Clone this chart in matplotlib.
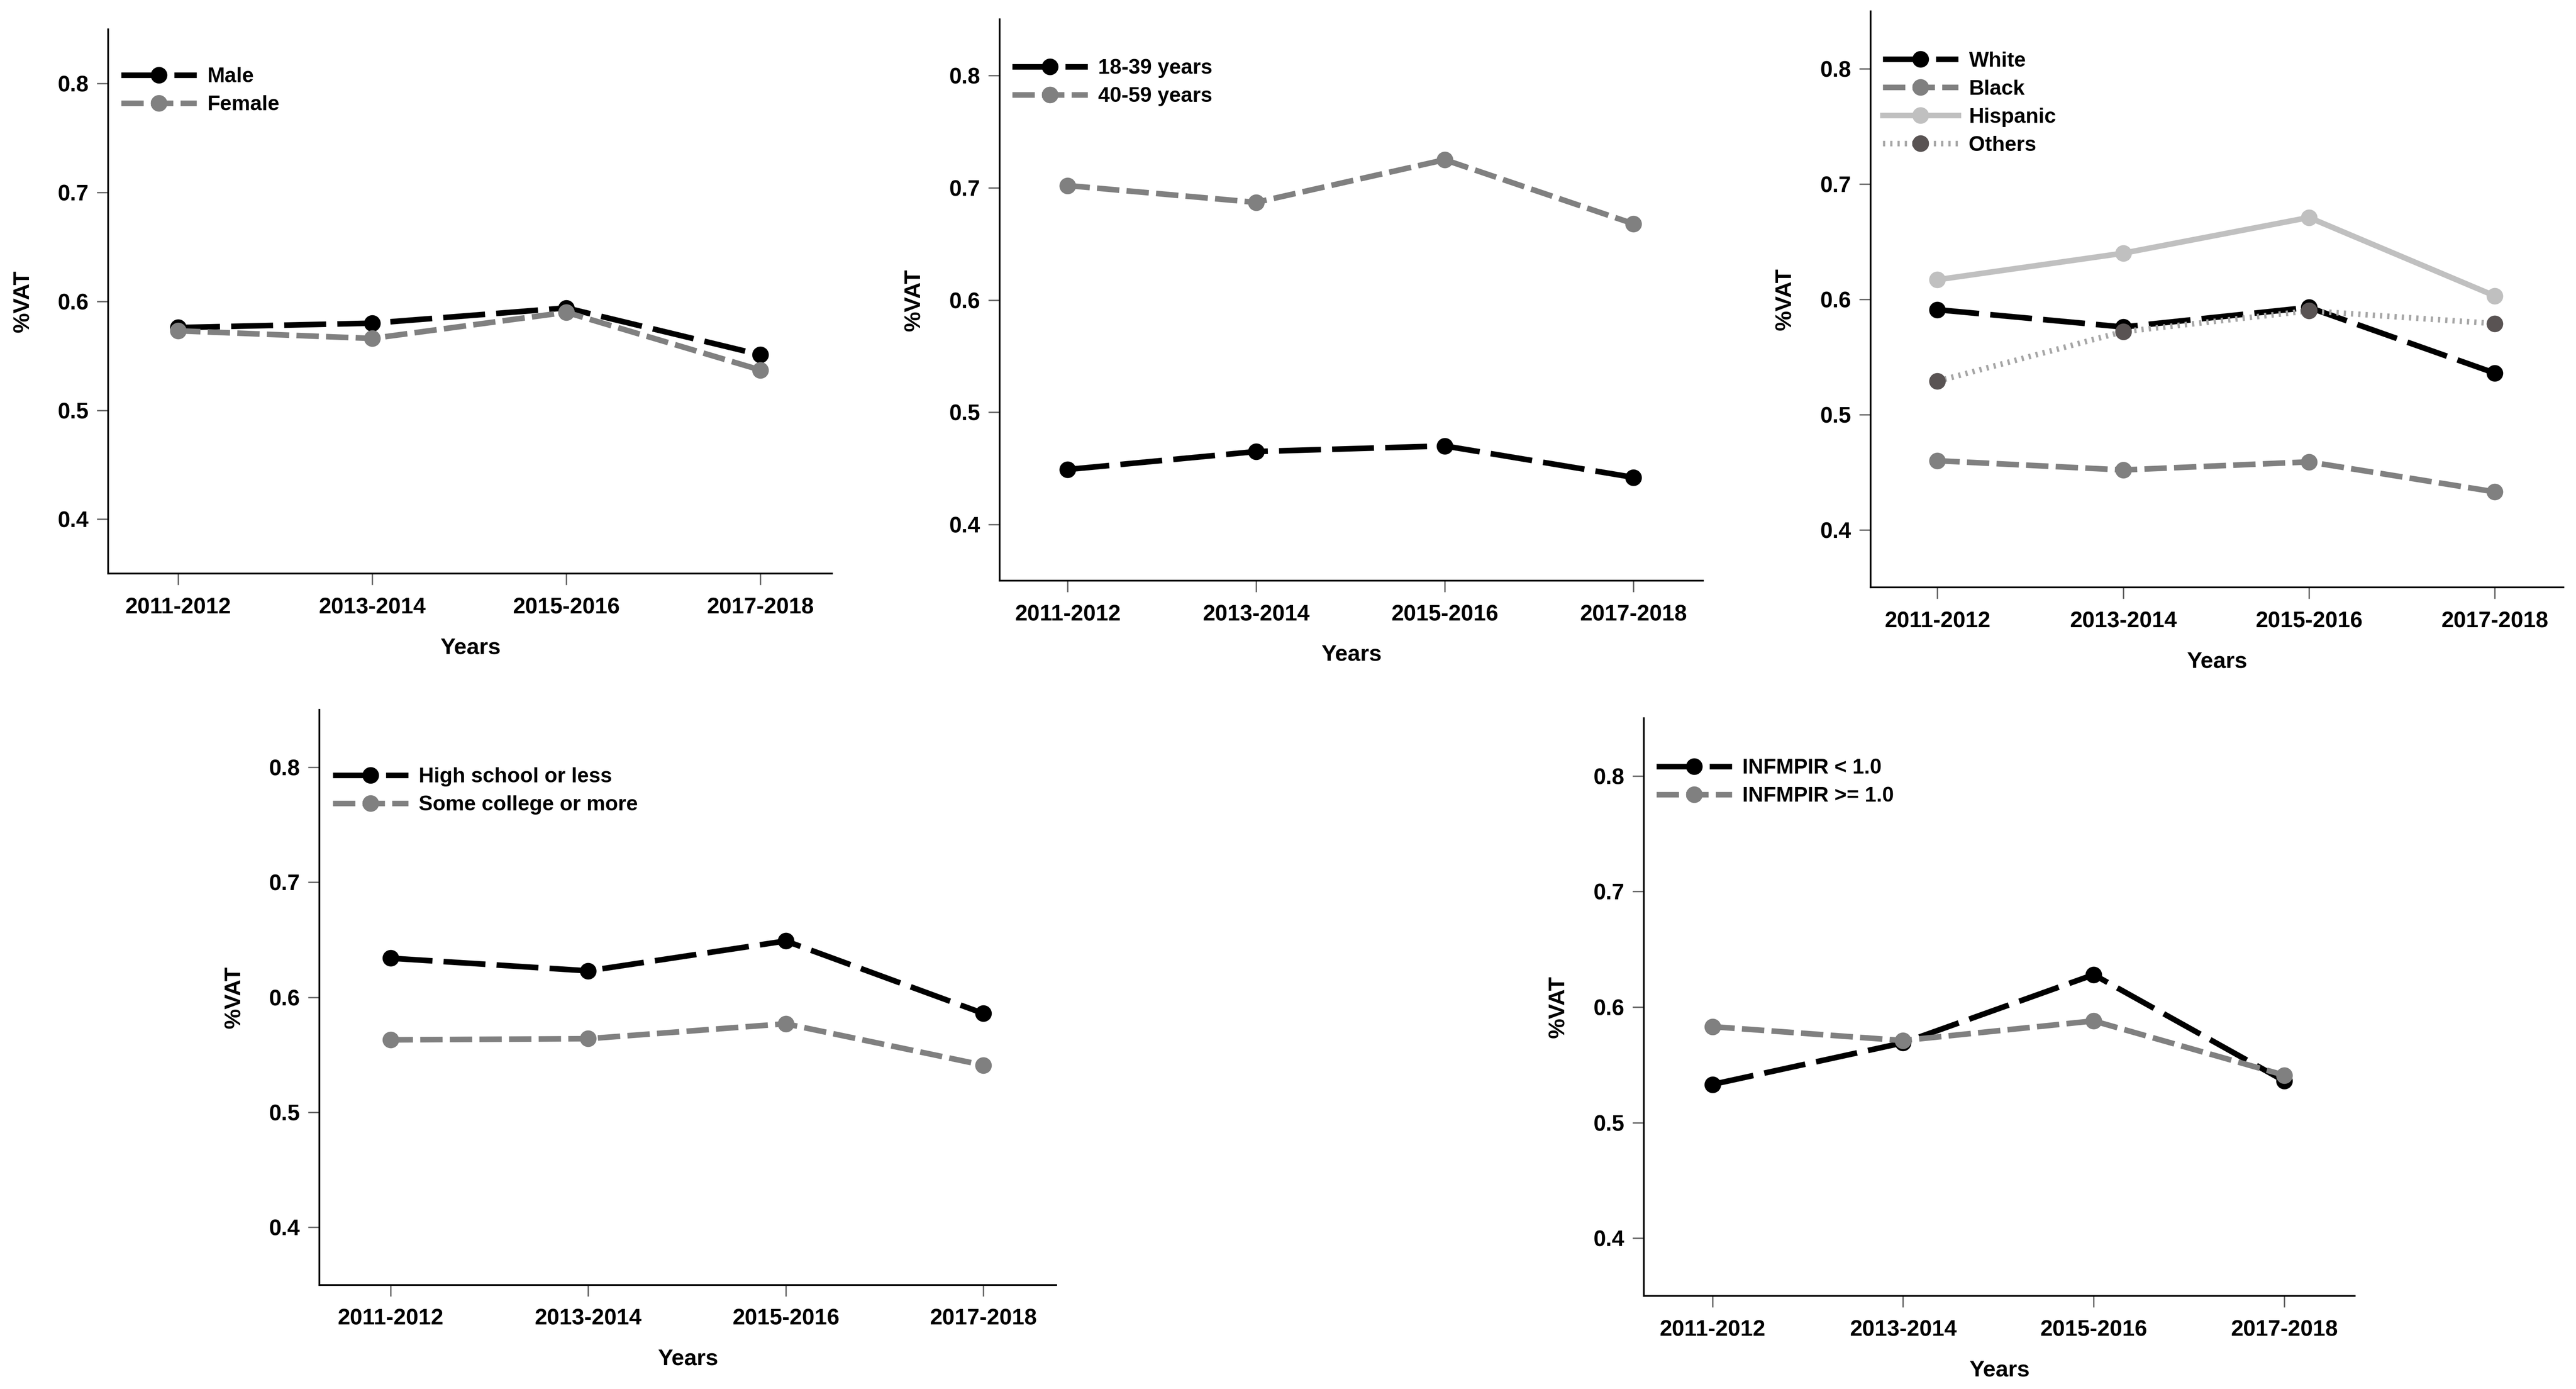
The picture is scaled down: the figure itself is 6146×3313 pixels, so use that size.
import numpy as np
import matplotlib
matplotlib.use('Agg')
import matplotlib.pyplot as plt

plt.rcParams['font.family'] = ['Liberation Sans', 'DejaVu Sans']
plt.rcParams['font.weight'] = 'bold'

years = ['2011-2012', '2013-2014', '2015-2016', '2017-2018']

male = [0.576, 0.580, 0.594, 0.551]
female = [0.573, 0.566, 0.590, 0.537]

age_18_39 = [0.449, 0.465, 0.470, 0.442]
age_40_59 = [0.702, 0.687, 0.725, 0.668]

white = [0.591, 0.576, 0.593, 0.536]
black = [0.460, 0.452, 0.459, 0.433]
hispanic = [0.617, 0.640, 0.671, 0.603]
others = [0.529, 0.572, 0.590, 0.579]

high_school = [0.634, 0.623, 0.649, 0.586]
some_college = [0.563, 0.564, 0.577, 0.541]

pir_low = [0.533, 0.569, 0.628, 0.536]
pir_high = [0.583, 0.571, 0.588, 0.541]

LW = 3.2
MS = 8.5
BLACK_DASH = (7.5, 2.0)
GRAY_DASH = (4.0, 1.3)
DOT = (0.4, 0.9)

fig = plt.figure(figsize=(6147 / 300, 3313 / 300), dpi=300)

positions = [
    [0.042, 0.587, 0.281, 0.392],
    [0.388, 0.582, 0.273, 0.404],
    [0.726, 0.577, 0.269, 0.415],
    [0.124, 0.075, 0.286, 0.414],
    [0.638, 0.067, 0.276, 0.416],
]
legend_top = [0.93, 0.93, 0.93, 0.90, 0.93]

x = np.arange(len(years))


def style(ax, top):
    ax.set_xlim(-0.36, 3.37)
    ax.set_ylim(0.35, 0.85)
    ax.set_xticks(x)
    ax.set_xticklabels(years)
    ax.set_yticks([0.4, 0.5, 0.6, 0.7, 0.8])
    ax.set_yticklabels(['0.4', '0.5', '0.6', '0.7', '0.8'])
    for s in ['top', 'right']:
        ax.spines[s].set_visible(False)
    for s in ['left', 'bottom']:
        ax.spines[s].set_linewidth(1.0)
    ax.tick_params(axis='both', length=6.5, width=0.8, color='#666666',
                   labelsize=12.8)
    ax.tick_params(axis='x', pad=7)
    ax.tick_params(axis='y', pad=4.5)
    ax.set_xlabel('Years', fontsize=13, fontweight='bold', labelpad=11)
    ax.set_ylabel('%VAT', fontsize=13, fontweight='bold', labelpad=14)
    ax.legend(loc='upper left', bbox_to_anchor=(0.018, top), frameon=False,
              fontsize=12, handlelength=3.6, handletextpad=0.5,
              labelspacing=0.42, borderpad=0, borderaxespad=0)


axes = [fig.add_axes(p) for p in positions]

# gender
ax = axes[0]
ax.plot(x, male, color='black', lw=LW, dashes=BLACK_DASH, marker='o', ms=MS, label='Male')
ax.plot(x, female, color='#808080', lw=LW, dashes=GRAY_DASH, marker='o', ms=MS, label='Female')

# age
ax = axes[1]
ax.plot(x, age_18_39, color='black', lw=LW, dashes=BLACK_DASH, marker='o', ms=MS, label='18-39 years')
ax.plot(x, age_40_59, color='#808080', lw=LW, dashes=GRAY_DASH, marker='o', ms=MS, label='40-59 years')

# race
ax = axes[2]
ax.plot(x, white, color='black', lw=LW, dashes=BLACK_DASH, marker='o', ms=MS, label='White')
ax.plot(x, black, color='#808080', lw=LW, dashes=GRAY_DASH, marker='o', ms=MS, label='Black')
ax.plot(x, hispanic, color='#c0c0c0', lw=LW, marker='o', ms=MS, label='Hispanic')
ax.plot(x, others, color='#a6a6a6', lw=LW, dashes=DOT, marker='o', ms=MS,
        mfc='#595353', mec='#595353', label='Others')

# education
ax = axes[3]
ax.plot(x, high_school, color='black', lw=LW, dashes=BLACK_DASH, marker='o', ms=MS, label='High school or less')
ax.plot(x, some_college, color='#808080', lw=LW, dashes=GRAY_DASH, marker='o', ms=MS, label='Some college or more')

# income
ax = axes[4]
ax.plot(x, pir_low, color='black', lw=LW, dashes=BLACK_DASH, marker='o', ms=MS, label='INFMPIR < 1.0')
ax.plot(x, pir_high, color='#808080', lw=LW, dashes=GRAY_DASH, marker='o', ms=MS, label='INFMPIR >= 1.0')

for ax, top in zip(axes, legend_top):
    style(ax, top)

fig.savefig('out.png', dpi=300)
